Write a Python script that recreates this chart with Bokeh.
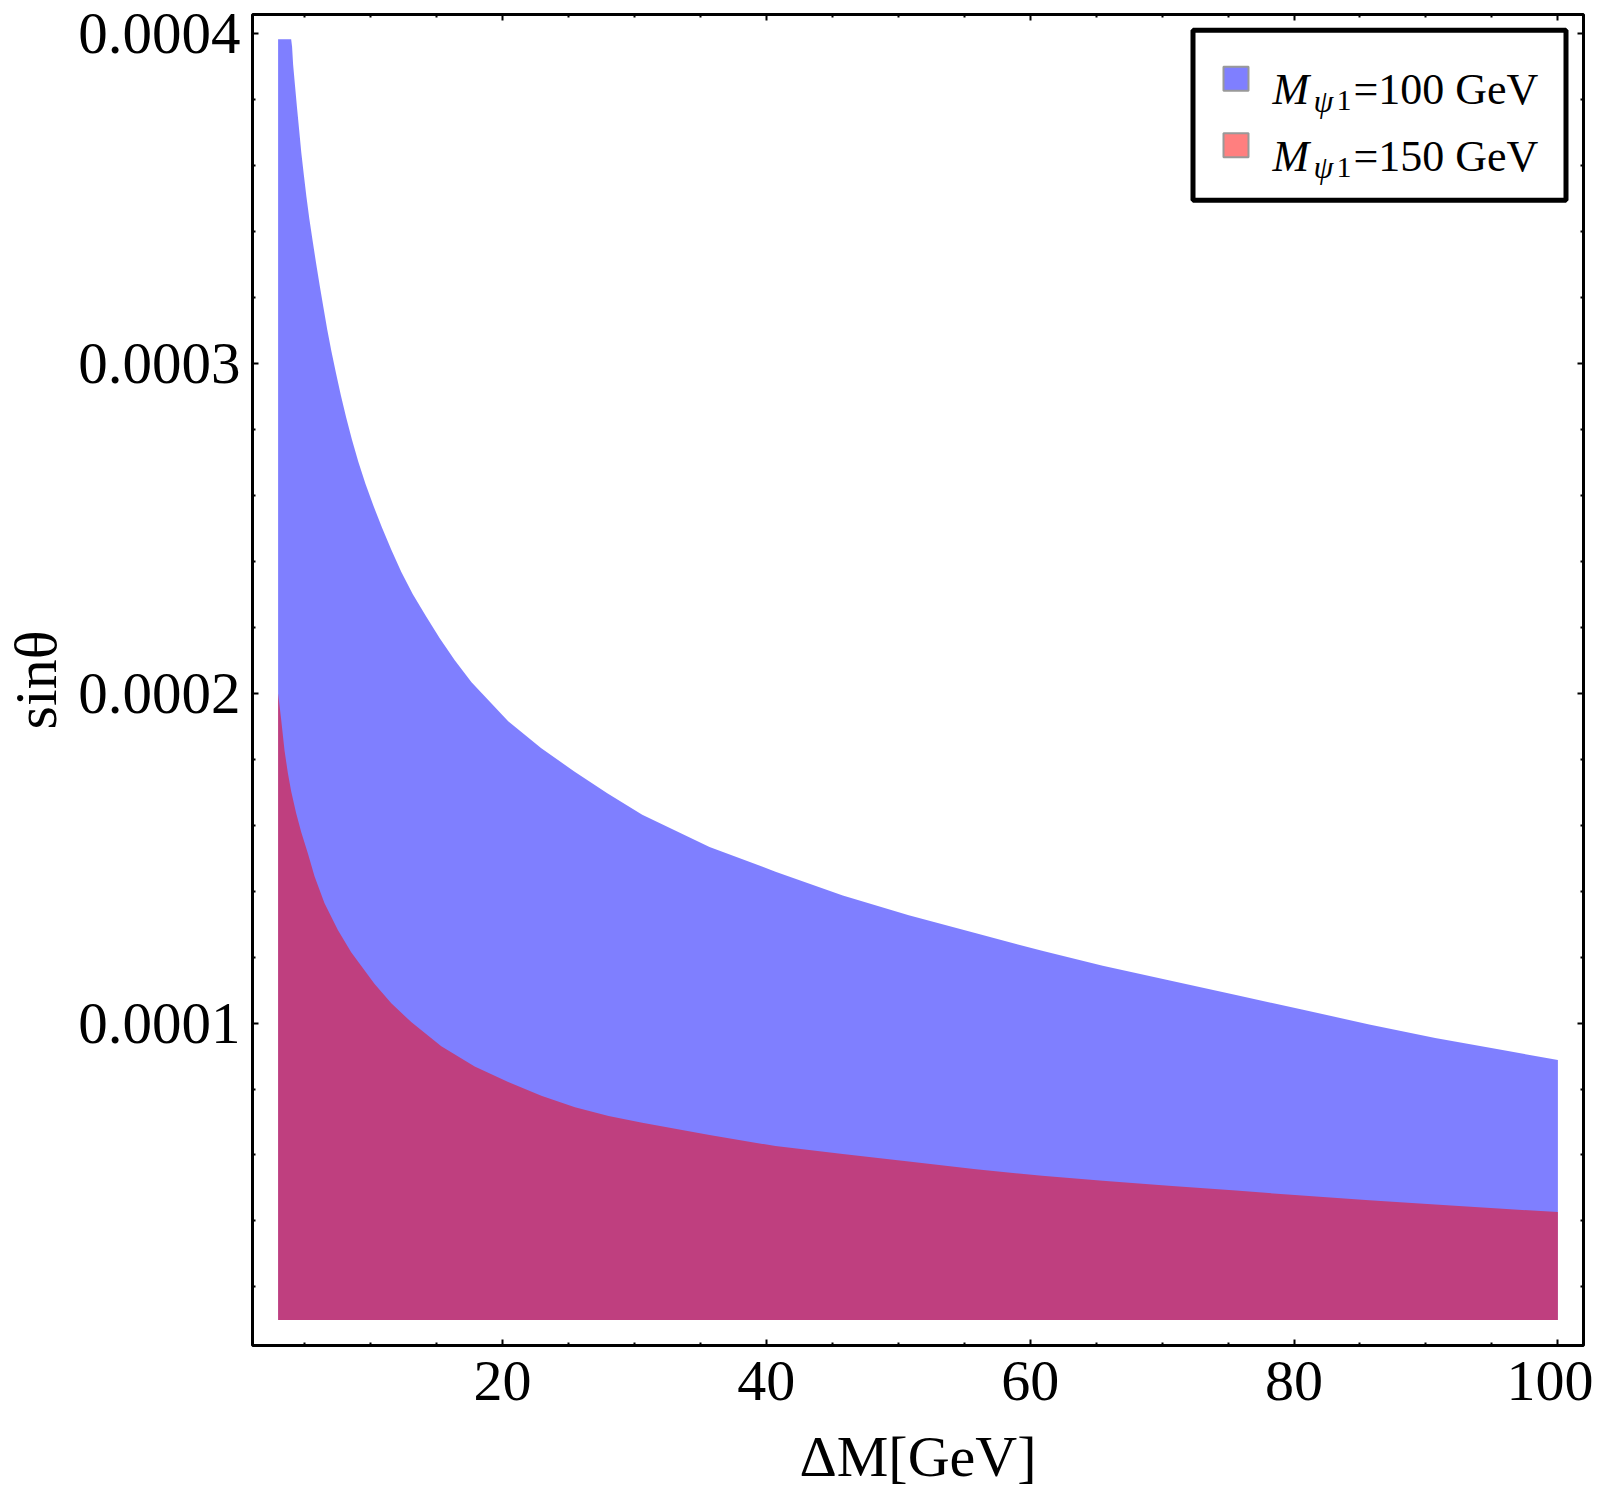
from bokeh.plotting import figure
from bokeh.models import (Range1d, FixedTicker, LinearAxis, BoxAnnotation, Label,
                          CustomJSTickFormatter)
from bokeh.embed import file_html
from bokeh.resources import INLINE

# ---------------- data ----------------
delta_m_100 = [3.0, 3.99, 4.06, 4.14, 4.29, 4.44, 4.60, 4.76, 4.95, 5.15, 5.37, 5.62,
               5.88, 6.15, 6.43, 6.72, 7.04, 7.39, 7.76, 8.16, 8.60, 9.08, 9.62, 10.22,
               10.88, 11.58, 12.34, 13.2, 14.2, 15.25, 16.39, 17.66, 20.44, 22.95,
               25.45, 27.95, 30.6, 35.7, 40.7, 45.8, 50.8, 55.9, 60.9, 65.5, 70.5,
               75.6, 80.6, 85.7, 90.7, 95.8, 100.0]
sin_theta_100 = [3.983e-4, 3.983e-4, 3.960e-4, 3.906e-4, 3.839e-4, 3.773e-4, 3.706e-4,
                 3.639e-4, 3.572e-4, 3.505e-4, 3.438e-4, 3.371e-4, 3.304e-4, 3.237e-4,
                 3.171e-4, 3.104e-4, 3.037e-4, 2.970e-4, 2.903e-4, 2.836e-4, 2.769e-4,
                 2.702e-4, 2.635e-4, 2.569e-4, 2.502e-4, 2.435e-4, 2.368e-4, 2.301e-4,
                 2.234e-4, 2.167e-4, 2.100e-4, 2.033e-4, 1.915e-4, 1.833e-4, 1.763e-4,
                 1.697e-4, 1.632e-4, 1.534e-4, 1.459e-4, 1.387e-4, 1.327e-4, 1.272e-4,
                 1.219e-4, 1.174e-4, 1.130e-4, 1.085e-4, 1.041e-4, 0.996e-4, 0.955e-4,
                 0.918e-4, 0.888e-4]

delta_m_150 = [3.0, 3.23, 3.49, 3.74, 3.99, 4.37, 4.75, 5.26, 5.76, 6.51, 7.53, 8.54,
               10.3, 11.58, 13.09, 15.37, 17.9, 20.44, 22.95, 25.5, 28.05, 30.6, 35.7,
               40.7, 45.8, 50.8, 55.9, 60.9, 65.5, 70.5, 75.6, 80.6, 85.7, 90.7, 95.8,
               100.0]
sin_theta_150 = [2.0e-4, 1.921e-4, 1.826e-4, 1.758e-4, 1.703e-4, 1.636e-4, 1.579e-4,
                 1.514e-4, 1.445e-4, 1.364e-4, 1.282e-4, 1.215e-4, 1.119e-4, 1.060e-4,
                 1.003e-4, 0.930e-4, 0.868e-4, 0.821e-4, 0.780e-4, 0.745e-4, 0.718e-4,
                 0.698e-4, 0.661e-4, 0.627e-4, 0.603e-4, 0.580e-4, 0.557e-4, 0.537e-4,
                 0.522e-4, 0.507e-4, 0.492e-4, 0.477e-4, 0.463e-4, 0.450e-4, 0.437e-4,
                 0.427e-4]

region_floor = 1.0e-5

x_major_ticks = [20, 40, 60, 80, 100]
x_minor_ticks = [5, 10, 15, 25, 30, 35, 45, 50, 55, 65, 70, 75, 85, 90, 95]
y_major_ticks = [0.0001, 0.0002, 0.0003, 0.0004]
y_major_labels = ["0.0001", "0.0002", "0.0003", "0.0004"]
y_minor_ticks = [0.00002, 0.00004, 0.00006, 0.00008, 0.00012, 0.00014, 0.00016,
                 0.00018, 0.00022, 0.00024, 0.00026, 0.00028, 0.00032, 0.00034,
                 0.00036, 0.00038]

legend_values = ["=100 GeV", "=150 GeV"]
series_colors = ["blue", "red"]

# ---------------- layout ----------------
X0, X1 = 1.06, 101.94
Y0, Y1 = 2.24e-6, 4.058e-4
FW, FH = 1331, 1331
BL, BT = 243, 14
FONT = "Liberation Serif"

p = figure(frame_width=FW, frame_height=FH,
           x_range=Range1d(X0, X1), y_range=Range1d(Y0, Y1),
           min_border_left=BL, min_border_right=10, min_border_top=BT,
           min_border_bottom=141,
           output_backend="svg", toolbar_location=None,
           x_axis_label="ΔM[GeV]", y_axis_label="sinθ")
p.background_fill_color = "white"
p.border_fill_color = "white"
p.xgrid.visible = False
p.ygrid.visible = False
p.outline_line_color = "black"
p.outline_line_width = 3

# regions
p.varea(x=delta_m_100, y1=region_floor, y2=sin_theta_100,
        fill_color=series_colors[0], fill_alpha=0.5)
p.varea(x=delta_m_150, y1=region_floor, y2=sin_theta_150,
        fill_color=series_colors[1], fill_alpha=0.5)

xt = FixedTicker(ticks=x_major_ticks, minor_ticks=x_minor_ticks)
yt = FixedTicker(ticks=y_major_ticks, minor_ticks=y_minor_ticks)


def style_axis(ax, size="58px"):
    ax.axis_line_color = None
    ax.major_tick_in = 6
    ax.major_tick_out = 0
    ax.minor_tick_in = 3
    ax.minor_tick_out = 0
    ax.major_tick_line_width = 2
    ax.minor_tick_line_width = 2
    ax.major_tick_line_color = "black"
    ax.minor_tick_line_color = "black"
    ax.major_label_text_font = FONT
    ax.major_label_text_font_size = size
    ax.major_label_text_color = "black"
    ax.axis_label_text_font = FONT
    ax.axis_label_text_font_size = "58px"
    ax.axis_label_text_font_style = "normal"
    ax.axis_label_text_color = "black"


xa = p.xaxis[0]
xa.ticker = xt
style_axis(xa)
xa.major_label_standoff = 16
xa.axis_label_standoff = 21

ya = p.yaxis[0]
ya.ticker = yt
style_axis(ya, "59px")
ya.major_label_overrides = {v: s for v, s in zip(y_major_ticks, y_major_labels)}
ya.major_label_standoff = 12
ya.axis_label_standoff = 6
ya.axis_label_text_font_size = "60px"

blank = CustomJSTickFormatter(code="return ''")
top = LinearAxis(ticker=xt, formatter=blank)
style_axis(top)
top.major_label_standoff = 0
p.add_layout(top, "above")
right = LinearAxis(ticker=yt, formatter=blank)
style_axis(right)
right.major_label_standoff = 0
p.add_layout(right, "right")

# ---------------- legend (drawn by hand, positions in picture pixels) ----------------
FL_PAGE = 8 + BL
FT_PAGE = BT + 0.7


def dx(px):
    return X0 + (px - FL_PAGE) / FW * (X1 - X0)


def dy(py):
    return Y1 - (py - FT_PAGE) / FH * (Y1 - Y0)


p.add_layout(BoxAnnotation(left=dx(1191.5), right=dx(1564.5), top=dy(30.5), bottom=dy(200.5),
                           fill_color="white", fill_alpha=1.0,
                           line_color="black", line_width=5, line_alpha=1.0,
                           level="annotation"))

row_gap = 66.5
for i, (lab, col) in enumerate(zip(legend_values, series_colors)):
    off = i * row_gap
    p.add_layout(BoxAnnotation(left=dx(1222), right=dx(1247), top=dy(67 + off), bottom=dy(91 + off),
                               fill_color=col, fill_alpha=0.5,
                               line_color="#999999", line_width=2, line_alpha=1.0,
                               level="annotation"))
    base = 90 + off
    p.add_layout(Label(x=dx(1271), y=dy(base), text="M", text_font=FONT,
                       text_font_style="italic", text_font_size="44px",
                       text_baseline="alphabetic", text_align="left", text_color="black"))
    p.add_layout(Label(x=dx(1312), y=dy(base + 11), text="ψ", text_font=FONT,
                       text_font_style="italic", text_font_size="32px",
                       text_baseline="alphabetic", text_align="left", text_color="black"))
    p.add_layout(Label(x=dx(1335), y=dy(base + 11), text="1", text_font=FONT,
                       text_font_size="30px",
                       text_baseline="alphabetic", text_align="left", text_color="black"))
    p.add_layout(Label(x=dx(1352), y=dy(base), text=lab, text_font=FONT,
                       text_font_size="44px",
                       text_baseline="alphabetic", text_align="left", text_color="black"))

open("out.html", "w").write(file_html(p, INLINE))
